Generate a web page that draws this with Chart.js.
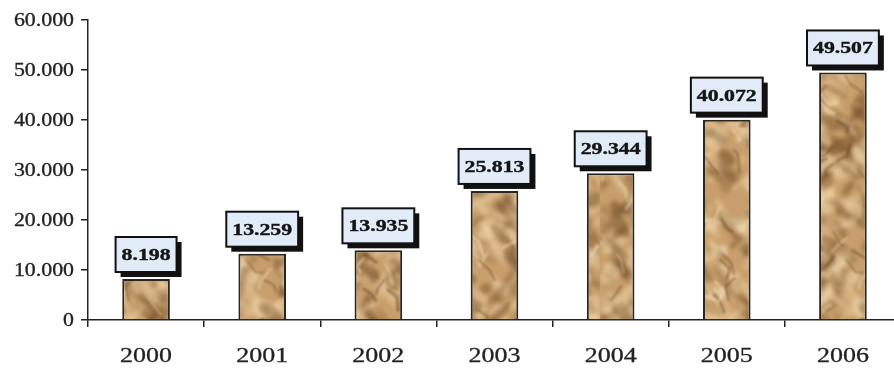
<!DOCTYPE html>
<html>
<head>
<meta charset="utf-8">
<script src="https://cdn.jsdelivr.net/npm/chart.js@4.4.1/dist/chart.umd.min.js"></script>
<style>
    html, body { margin: 0; padding: 0; background: #fff; overflow: hidden; }
    #wrap { width: 910px; height: 368px; }
</style>
</head>
<body>
<div id="wrap"><canvas id="chart" width="910" height="368"></canvas></div>
<script>
const years = ['2000', '2001', '2002', '2003', '2004', '2005', '2006'];
const values = [8198, 13259, 13935, 25813, 29344, 40072, 49507];
const valueLabels = ['8.198', '13.259', '13.935', '25.813', '29.344', '40.072', '49.507'];
const yTicks = [0, 10000, 20000, 30000, 40000, 50000, 60000];
const yTickLabels = ['0', '10.000', '20.000', '30.000', '40.000', '50.000', '60.000'];

const axisColor = '#222';
const serif = '"Liberation Serif", "Times New Roman", serif';

// crumpled paper fill for the bars, big enough that it never visibly repeats
function makeTexture() {
    const w = 300, h = 340;
    let seed = 23;
    const rnd = () => { seed = (seed * 16807) % 2147483647; return seed / 2147483647; };

    const soft = document.createElement('canvas');
    soft.width = w; soft.height = h;
    const s = soft.getContext('2d');
    s.fillStyle = '#c89f6c';
    s.fillRect(0, 0, w, h);
    for (let k = 0; k < 800; k++) {
        const cx = rnd() * w, cy = rnd() * h;
        const rx = 4 + rnd() * 13, ry = 2 + rnd() * 5;
        const ang = (rnd() > 0.35 ? 0.8 : -0.7) + (rnd() - 0.5) * 0.6;
        s.beginPath();
        s.ellipse(cx, cy, rx, ry, ang, 0, Math.PI * 2);
        s.fillStyle = rnd() > 0.5
            ? `rgba(240, 214, 172, ${0.25 + rnd() * 0.35})`
            : `rgba(120, 82, 42, ${0.2 + rnd() * 0.35})`;
        s.fill();
    }

    const lines = document.createElement('canvas');
    lines.width = w; lines.height = h;
    const l = lines.getContext('2d');
    l.lineCap = 'round';
    l.lineJoin = 'round';
    for (let k = 0; k < 140; k++) {
        const x0 = rnd() * w, y0 = rnd() * h;
        const dir = rnd() > 0.35 ? 1 : -1;
        l.beginPath();
        l.moveTo(x0, y0);
        l.lineTo(x0 + dir * (3 + rnd() * 8), y0 + 4 + rnd() * 10);
        l.lineTo(x0 + dir * (5 + rnd() * 12) + (rnd() - 0.5) * 6, y0 + 8 + rnd() * 14);
        l.strokeStyle = rnd() > 0.45 ? 'rgba(95, 62, 30, 0.45)' : 'rgba(246, 224, 188, 0.5)';
        l.lineWidth = 1.5 + rnd() * 2;
        l.stroke();
    }

    const out = document.createElement('canvas');
    out.width = w; out.height = h;
    const o = out.getContext('2d');
    o.fillStyle = '#c89f6c';
    o.fillRect(0, 0, w, h);
    o.filter = 'blur(2px)';
    o.drawImage(soft, 0, 0);
    o.filter = 'blur(1.3px)';
    o.drawImage(lines, 0, 0);
    return out;
}

function stretchedText(ctx, text, x, y, sx, align, weight) {
    ctx.save();
    ctx.translate(x, y);
    ctx.scale(sx, 1);
    ctx.textAlign = align;
    if (weight) {
        ctx.lineWidth = weight;
        ctx.strokeStyle = ctx.fillStyle;
        ctx.strokeText(text, 0, 0);
    }
    ctx.fillText(text, 0, 0);
    ctx.restore();
}

// axis labels and the boxed value labels
const labelPlugin = {
    id: 'labels',
    afterDraw(chart) {
        const ctx = chart.ctx;
        const xs = chart.scales.x, ys = chart.scales.y;
        ctx.save();
        ctx.fillStyle = axisColor;
        ctx.textBaseline = 'middle';

        ctx.font = `19px ${serif}`;
        ys.ticks.forEach((t, i) => {
            stretchedText(ctx, yTickLabels[i], 74, ys.getPixelForTick(i) + 1, 1.15, 'right', 0.3);
        });

        ctx.font = `20px ${serif}`;
        years.forEach((y, i) => {
            stretchedText(ctx, y, xs.getPixelForValue(i), 357, 1.3, 'center', 0.3);
        });

        const meta = chart.getDatasetMeta(0);
        ctx.font = `bold 17px ${serif}`;
        meta.data.forEach((bar, i) => {
            const txt = valueLabels[i];
            const tw = ctx.measureText(txt).width * 1.28;
            const bw = tw + 12, bh = 35;
            const bx = bar.x - bw / 2;
            const by = bar.y - 7 - bh;
            ctx.fillStyle = '#111';
            ctx.fillRect(bx + 5, by + 5, bw, bh);
            ctx.fillStyle = '#e1ecf8';
            ctx.fillRect(bx, by, bw, bh);
            ctx.strokeStyle = '#111';
            ctx.lineWidth = 2;
            ctx.strokeRect(bx, by, bw, bh);
            ctx.fillStyle = '#141414';
            stretchedText(ctx, txt, bar.x, by + bh / 2 + 1, 1.28, 'center', 0.4);
        });
        ctx.restore();
    }
};

const ctx = document.getElementById('chart').getContext('2d');
const paper = ctx.createPattern(makeTexture(), 'repeat');

new Chart(ctx, {
    type: 'bar',
    data: {
        labels: years,
        datasets: [{
            data: values,
            backgroundColor: paper,
            borderColor: '#2a2520',
            borderWidth: 2,
            barPercentage: 0.41,
            categoryPercentage: 1
        }]
    },
    options: {
        responsive: false,
        animation: false,
        devicePixelRatio: 1,
        layout: { padding: { top: 20, right: 9, left: 0, bottom: 0 } },
        plugins: { legend: { display: false }, tooltip: { enabled: false } },
        scales: {
            x: {
                grid: { display: true, drawOnChartArea: false, drawTicks: true, tickLength: 7, color: axisColor, lineWidth: 1.5, offset: true },
                border: { color: axisColor, width: 1.5 },
                ticks: { display: false },
                afterFit: s => { s.height = 48; }
            },
            y: {
                min: 0,
                max: 60000,
                afterBuildTicks: s => { s.ticks = yTicks.map(v => ({ value: v })); },
                grid: { display: true, drawOnChartArea: false, drawTicks: true, tickLength: 7, color: axisColor, lineWidth: 1.5 },
                border: { color: axisColor, width: 1.5 },
                ticks: { display: false },
                afterFit: s => { s.width = 88; }
            }
        }
    },
    plugins: [labelPlugin]
});
</script>
</body>
</html>
